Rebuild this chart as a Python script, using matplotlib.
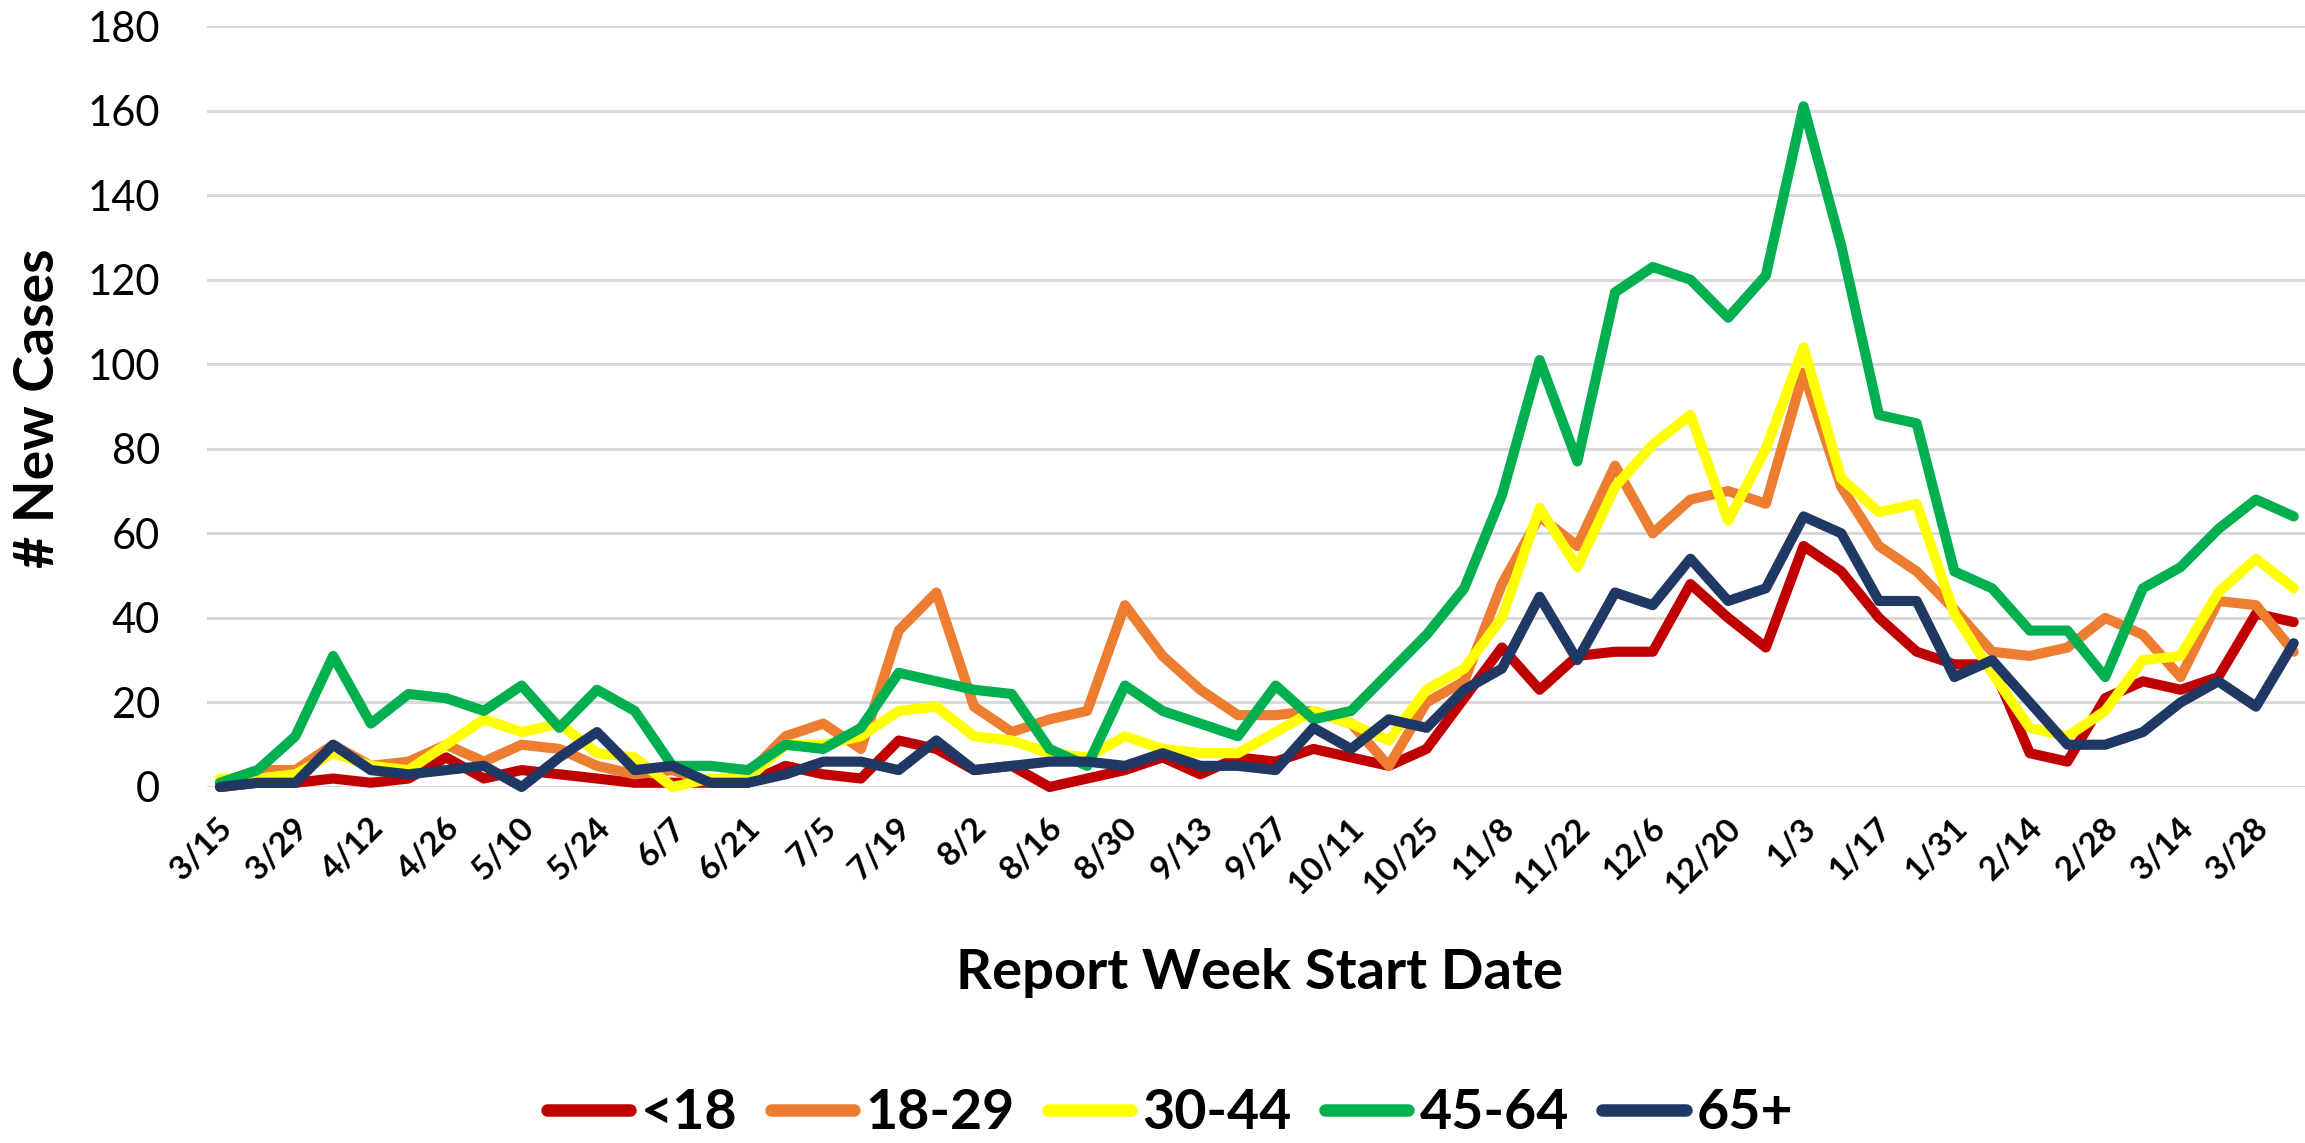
import matplotlib
matplotlib.use("Agg")
import matplotlib.pyplot as plt
from matplotlib.transforms import ScaledTranslation

plt.rcParams['font.family'] = ['Lato', 'DejaVu Sans']

weeks = ["3/15", "3/22", "3/29", "4/5", "4/12", "4/19", "4/26", "5/3", "5/10", "5/17",
         "5/24", "5/31", "6/7", "6/14", "6/21", "6/28", "7/5", "7/12", "7/19", "7/26",
         "8/2", "8/9", "8/16", "8/23", "8/30", "9/6", "9/13", "9/20", "9/27", "10/4",
         "10/11", "10/18", "10/25", "11/1", "11/8", "11/15", "11/22", "11/29", "12/6", "12/13",
         "12/20", "12/27", "1/3", "1/10", "1/17", "1/24", "1/31", "2/7", "2/14", "2/21",
         "2/28", "3/7", "3/14", "3/21", "3/28", "4/4"]

under18 = [0, 1, 1, 2, 1, 2, 7, 2, 4, 3, 2, 1, 1, 1, 1, 5, 3, 2, 11, 9,
           4, 5, 0, 2, 4, 7, 3, 7, 6, 9, 7, 5, 9, 21, 33, 23, 31, 32, 32, 48,
           40, 33, 57, 51, 40, 32, 29, 29, 8, 6, 21, 25, 23, 26, 41, 39]
age18_29 = [1, 4, 4, 10, 5, 6, 10, 6, 10, 9, 5, 3, 4, 1, 3, 12, 15, 9, 37, 46,
            19, 13, 16, 18, 43, 31, 23, 17, 17, 18, 15, 5, 20, 25, 48, 64, 57, 76, 60, 68,
            70, 67, 98, 71, 57, 51, 42, 32, 31, 33, 40, 36, 26, 44, 43, 32]
age30_44 = [2, 2, 3, 8, 5, 4, 10, 16, 13, 15, 8, 7, 0, 2, 2, 10, 10, 12, 18, 19,
            12, 11, 8, 7, 12, 9, 8, 8, 13, 18, 15, 11, 23, 28, 40, 66, 52, 71, 81, 88,
            63, 80, 104, 73, 65, 67, 41, 27, 14, 12, 18, 30, 31, 46, 54, 47]
age45_64 = [1, 4, 12, 31, 15, 22, 21, 18, 24, 14, 23, 18, 5, 5, 4, 10, 9, 14, 27, 25,
            23, 22, 9, 5, 24, 18, 15, 12, 24, 16, 18, 27, 36, 47, 69, 101, 77, 117, 123, 120,
            111, 121, 161, 128, 88, 86, 51, 47, 37, 37, 26, 47, 52, 61, 68, 64]
age65plus = [0, 1, 1, 10, 4, 3, 4, 5, 0, 7, 13, 4, 5, 1, 1, 3, 6, 6, 4, 11,
             4, 5, 6, 6, 5, 8, 5, 5, 4, 14, 9, 16, 14, 23, 28, 45, 30, 46, 43, 54,
             44, 47, 64, 60, 44, 44, 26, 30, 20, 10, 10, 13, 20, 25, 19, 34]

series_names = ["<18", "18-29", "30-44", "45-64", "65+"]
series_vals = [under18, age18_29, age30_44, age45_64, age65plus]
colors = ["#C00000", "#ED7D31", "#FFFF00", "#00B050", "#203864"]

W, H = 2305, 1143
fig = plt.figure(figsize=(W / 100, H / 100), dpi=100)
left, right, top, bottom = 207, 2305, 26, 787
ax = fig.add_axes([left / W, 1 - bottom / H, (right - left) / W, (bottom - top) / H])

x = list(range(len(weeks)))
handles = []
for name, vals, c in zip(series_names, series_vals, colors):
    ln, = ax.plot(x, vals, color=c, lw=7.3, label=name, clip_on=False,
                  solid_joinstyle='round', solid_capstyle='round', zorder=3)
    handles.append(ln)

ax.set_ylim(0, 180)
ax.set_xlim(-0.345, 55.3)
ax.set_yticks(range(0, 181, 20))
ax.yaxis.grid(True, color="#D9D9D9", lw=2.2, zorder=0)
ax.set_axisbelow(True)
for s in ax.spines.values():
    s.set_visible(False)

ax.tick_params(axis='y', length=0, pad=34, labelsize=30)
ax.set_xticks(x[::2])
ax.set_xticklabels(weeks[::2], rotation=45, ha='right', va='center',
                   rotation_mode='anchor', fontsize=24, fontweight='bold')
ax.tick_params(axis='x', length=0, pad=26)
offset = ScaledTranslation(8 / 100, 0, fig.dpi_scale_trans)
for lbl in ax.get_xticklabels():
    lbl.set_transform(lbl.get_transform() + offset)

fig.text(38 / W, 1 - 408 / H, "# New Cases", rotation=90, ha='center', va='center',
         fontsize=40, fontweight='bold')
fig.text(1259 / W, 1 - 973 / H, "Report Week Start Date", ha='center', va='center',
         fontsize=40.5, fontweight='bold')

leg = fig.legend(handles=handles, loc='center', bbox_to_anchor=(1170 / W, 1 - 1113 / H),
                 ncol=5, frameon=False, prop={'size': 40, 'weight': 'bold'},
                 handlelength=1.5, handletextpad=0.2, columnspacing=0.6)
for lh in leg.get_lines():
    lh.set_linewidth(9)
    lh.set_solid_capstyle('round')

fig.savefig("out.png", dpi=100)
